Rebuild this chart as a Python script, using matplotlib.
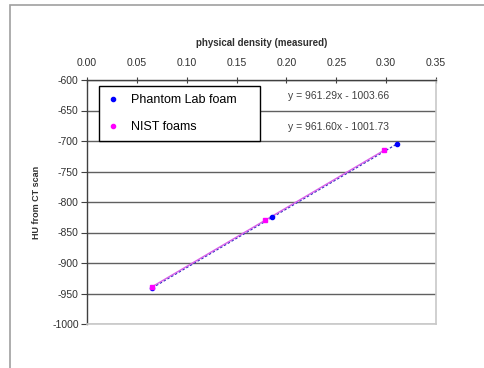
import matplotlib
matplotlib.use("Agg")
import matplotlib.pyplot as plt
from matplotlib.patches import Rectangle
import numpy as np

plt.rcParams['font.family'] = ['Liberation Sans', 'DejaVu Sans']

# measured density vs. CT number
phantom_x = [0.0655, 0.186, 0.311]
phantom_y = [-940.7, -824.9, -704.7]
nist_x = [0.0655, 0.179, 0.298]
nist_y = [-938.7, -829.6, -715.2]

phantom_fit = (961.29, -1003.66)
nist_fit = (961.60, -1001.73)

x_ticks = [0.00, 0.05, 0.10, 0.15, 0.20, 0.25, 0.30, 0.35]
y_ticks = [-600, -650, -700, -750, -800, -850, -900, -950, -1000]

fig = plt.figure(figsize=(4.85, 3.68), dpi=100)
W, H = 485, 368

# outer chart frame
fig.patches.append(Rectangle((10 / W, -0.05), 1.2, 1 - 5 / H + 0.05,
                             transform=fig.transFigure, fill=False,
                             edgecolor='#a0a0a0', linewidth=1.2))

ax = fig.add_axes([87 / W, 1 - 324 / H, (436 - 87) / W, (324 - 80) / H])
ax.set_xlim(0, 0.35)
ax.set_ylim(-1000, -600)

ax.xaxis.tick_top()
ax.xaxis.set_label_position('top')
ax.set_xticks(x_ticks)
ax.set_xticklabels([f"{v:.2f}" for v in x_ticks])
ax.set_yticks(y_ticks)
ax.set_yticklabels([str(v) for v in y_ticks])
ax.tick_params(axis='x', direction='inout', length=5, labelsize=7.5,
               color='#404040', labelcolor='#303030', pad=6)
ax.tick_params(axis='y', direction='out', length=4, labelsize=7.5,
               color='#404040', labelcolor='#303030', pad=2)

ax.yaxis.grid(True, color='#606060', linewidth=1.0)
ax.set_axisbelow(True)
for s in ['left', 'top']:
    ax.spines[s].set_color('#404040')
    ax.spines[s].set_linewidth(1.0)
for s in ['right', 'bottom']:
    ax.spines[s].set_color('#c8c8c8')
    ax.spines[s].set_linewidth(1.2)

ax.set_xlabel('physical density (measured)', fontsize=7, fontweight='bold',
              color='#303030', labelpad=9)
ax.set_ylabel('HU from CT scan', fontsize=6.5, fontweight='bold',
              color='#303030', labelpad=8)

# linear trendlines over the data range
xs = np.array([min(phantom_x), max(phantom_x)])
ax.plot(xs, phantom_fit[0] * xs + phantom_fit[1], color='#3030c0',
        linewidth=0.9, linestyle=(0, (2, 1.5)), zorder=3)
xs = np.array([min(nist_x), max(nist_x)])
ax.plot(xs, nist_fit[0] * xs + nist_fit[1], color='#d860e8',
        linewidth=1.0, zorder=4)

ax.plot(phantom_x, phantom_y, 'o', color='#0000ff', markersize=3,
        linestyle='none', zorder=5, label='Phantom Lab foam')
ax.plot(nist_x, nist_y, 's', color='#ff00ff', markersize=3,
        linestyle='none', zorder=5, label='NIST foams')

leg_top = 1 - 6 / 244
leg = ax.legend(loc='upper left',
                bbox_to_anchor=((99 - 87) / 349, 0.5, 161 / 349, leg_top - 0.5),
                mode='expand', fontsize=9, frameon=True, fancybox=False,
                handlelength=1.0, handletextpad=0.9, labelspacing=1.2,
                borderpad=0.65, borderaxespad=0)
leg.get_frame().set_edgecolor('black')
leg.get_frame().set_linewidth(1.0)
leg.get_frame().set_alpha(1)
for h in leg.legend_handles:
    h.set_marker('o')
leg.set_zorder(10)

ax.text(0.72, 1 - 16 / 244, f"y = {phantom_fit[0]:.2f}x - {-phantom_fit[1]:.2f}",
        transform=ax.transAxes, fontsize=7.5, color='#404040',
        ha='center', va='center', zorder=6)
ax.text(0.72, 1 - 47 / 244, f"y = {nist_fit[0]:.2f}x - {-nist_fit[1]:.2f}",
        transform=ax.transAxes, fontsize=7.5, color='#404040',
        ha='center', va='center', zorder=6)

fig.savefig('out.png', dpi=100)
